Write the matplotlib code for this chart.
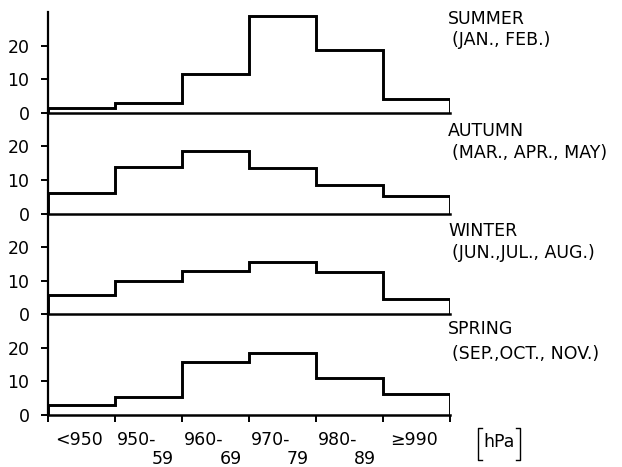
"""
Seasonal frequency of central pressure classes, drawn as four stacked
step histograms sharing one pressure axis.
"""

import numpy as np
import matplotlib.pyplot as plt
from matplotlib.lines import Line2D

plt.rcParams["font.family"] = ["DejaVu Sans"]

# pressure classes (hPa)
class_lo = ["<950", "950-", "960-", "970-", "980-", "\u2265990"]
class_hi = ["", "59", "69", "79", "89", ""]

seasons = ["SUMMER", "AUTUMN", "WINTER", "SPRING"]
months = ["(JAN., FEB.)", "(MAR., APR., MAY)", "(JUN.,JUL., AUG.)", "(SEP.,OCT., NOV.)"]

# frequencies (%) per class
summer = [1.4, 2.9, 11.6, 29.0, 18.8, 4.0]
autumn = [6.0, 14.0, 18.7, 13.5, 8.6, 5.3]
winter = [5.9, 9.8, 12.9, 15.7, 12.7, 4.5]
spring = [3.0, 5.5, 15.7, 18.6, 11.0, 6.3]
freqs = [summer, autumn, winter, spring]

# y positions of the two label lines in each panel
name_y = [28.0, 24.7, 24.8, 25.5]
month_y = [21.8, 18.1, 18.2, 18.2]

FS = 12.5


def main() -> None:
    edges = np.arange(len(class_lo) + 1)
    fig, axes = plt.subplots(4, 1, figsize=(6.22, 4.67), dpi=100, sharex=True)
    fig.subplots_adjust(left=0.0764, right=0.7235, bottom=0.1113, top=0.9739, hspace=0)

    for ax, vals, name, mon, ny, my in zip(axes, freqs, seasons, months, name_y, month_y):
        ax.stairs(vals, edges, color="black", linewidth=2.1, baseline=0)
        ax.set_xlim(0, len(class_lo))
        ax.set_ylim(0, 30)
        ax.set_yticks([0, 10, 20])
        ax.set_yticklabels(["0", "10", "20"], fontsize=FS)
        ax.tick_params(axis="y", direction="out", length=5, width=1.4, pad=8)
        ax.tick_params(axis="x", which="both", bottom=False, labelbottom=False)
        for side in ("top", "right"):
            ax.spines[side].set_visible(False)
        ax.spines["left"].set_linewidth(1.6)
        ax.spines["bottom"].set_linewidth(1.8)
        ax.patch.set_alpha(0)

        ax.text(5.97, ny, name, fontsize=FS, ha="left", va="center", clip_on=False)
        ax.text(6.03, my, mon, fontsize=FS, ha="left", va="center", clip_on=False)

    # pressure axis on the bottom panel
    bottom = axes[-1]
    bottom.set_xticks(edges)
    bottom.tick_params(axis="x", bottom=True, direction="out", length=5, width=1.4,
                       labelbottom=False)
    for i, (lo, hi) in enumerate(zip(class_lo, class_hi)):
        if hi:
            bottom.text(i + 0.03, -7.3, lo, fontsize=FS, ha="left", va="center",
                        clip_on=False)
            bottom.text(i + 0.56, -13.0, hi, fontsize=FS, ha="left", va="center",
                        clip_on=False)
        else:
            bottom.text(i + 0.47, -7.3, lo, fontsize=FS, ha="center", va="center",
                        clip_on=False)

    # unit label in square brackets
    fig.text(499 / 622, 1 - 442 / 467, "hPa", fontsize=FS, ha="center", va="center")
    for xb, s in ((478, 1), (520, -1)):
        x0, x1 = xb / 622, (xb + s * 4) / 622
        y0, y1 = 1 - 428 / 467, 1 - 460 / 467
        fig.add_artist(Line2D([x1, x0, x0, x1], [y0, y0, y1, y1],
                              color="black", linewidth=1.0))

    fig.savefig("out.png", dpi=100)
    plt.close(fig)


if __name__ == "__main__":
    main()
